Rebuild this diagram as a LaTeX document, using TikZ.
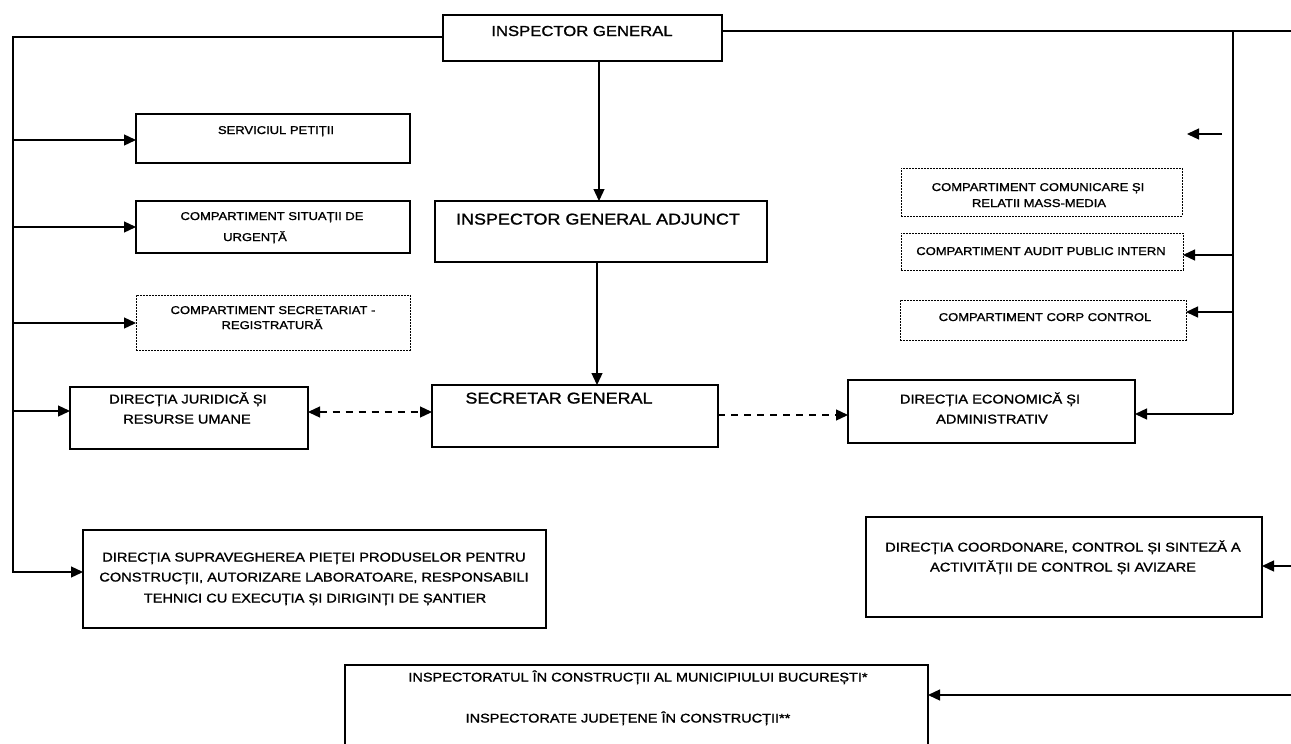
\documentclass[tikz,border=0pt]{standalone}
\usepackage{fontspec}
\setmainfont[FakeStretch=1.15,FakeBold=1.3]{Liberation Sans}
\usetikzlibrary{arrows.meta}
\newcommand\fntS{\fontsize{11.3}{13}\selectfont}
\newcommand\fntM{\fontsize{12.7}{15}\selectfont}
\newcommand\fntI{\fontsize{12.6}{15}\selectfont}
\newcommand\fntL{\fontsize{15.6}{18}\selectfont}
\newcommand\fntG{\fontsize{14.5}{17}\selectfont}
\begin{document}
\begin{tikzpicture}[x=1pt,y=-1pt,
  box/.style={draw, line width=1.3pt, inner sep=0, outer sep=0, rectangle},
  dbox/.style={draw, line width=0.8pt, dash pattern=on 2pt off 1pt, inner sep=0, outer sep=0, rectangle},
  ln/.style={line width=1.3pt},
  tip/.tip={Triangle[length=12pt,width=11pt]},
  arr/.style={line width=1.3pt, -tip},
  darr/.style={line width=1.3pt, dash pattern=on 7pt off 6pt, tip-tip},
  dar/.style={line width=1.3pt, dash pattern=on 7pt off 6pt, -tip},
  tx/.style={anchor=base, inner sep=0, outer sep=0}]
\fill[white] (0,0) rectangle (1291,744);
\useasboundingbox (0,0) rectangle (1291,744);
\clip (0,0) rectangle (1291,744);

% boxes
\node[box, minimum width=279pt, minimum height=46pt] (ig) at (582.5,38) {};
\node[box, minimum width=332pt, minimum height=61pt] (iga) at (601,231.5) {};
\node[box, minimum width=286pt, minimum height=62pt] (sg) at (575,416) {};
\node[box, minimum width=274pt, minimum height=49pt] (sp) at (273,138.5) {};
\node[box, minimum width=274pt, minimum height=52pt] (su) at (273,227) {};
\node[dbox, minimum width=274pt, minimum height=55pt] (sr) at (273,322.5) {};
\node[box, minimum width=238pt, minimum height=62pt] (jur) at (189,418) {};
\node[box, minimum width=287pt, minimum height=63pt] (eco) at (991.5,411.5) {};
\node[dbox, minimum width=281pt, minimum height=48pt] (com) at (1041.5,192) {};
\node[dbox, minimum width=282pt, minimum height=37pt] (aud) at (1042,251.5) {};
\node[dbox, minimum width=286pt, minimum height=40pt] (cc) at (1043,320) {};
\node[box, minimum width=463pt, minimum height=98pt] (sup) at (314.5,579) {};
\node[box, minimum width=396pt, minimum height=100pt] (coo) at (1064,567) {};
\node[box, minimum width=583pt, minimum height=100pt] (insp) at (636.5,715) {};

% texts
\node[tx, font=\fntG] (tig) at (582,36) {INSPECTOR GENERAL};
\node[tx, font=\fntL] (tiga) at (598,224.5) {INSPECTOR GENERAL ADJUNCT};
\node[tx, font=\fntL] (tsg) at (559,403.5) {SECRETAR GENERAL};
\node[tx, font=\fntS] (tsp) at (276,134) {SERVICIUL PETIȚII};
\node[tx, font=\fntS] (tsu1) at (272,220) {COMPARTIMENT SITUAȚII DE};
\node[tx, font=\fntS] (tsu2) at (255,241) {URGENȚĂ};
\node[tx, font=\fntS] (tsr1) at (273,314) {COMPARTIMENT SECRETARIAT -};
\node[tx, font=\fntS] (tsr2) at (272,329) {REGISTRATURĂ};
\node[tx, font=\fntM] (tj1) at (188,403.5) {DIRECȚIA JURIDICĂ ȘI};
\node[tx, font=\fntM] (tj2) at (187,423.5) {RESURSE UMANE};
\node[tx, font=\fntM] (te1) at (990,403.5) {DIRECȚIA ECONOMICĂ ȘI};
\node[tx, font=\fntM] (te2) at (992,423.5) {ADMINISTRATIV};
\node[tx, font=\fntS] (tc1) at (1038,191) {COMPARTIMENT COMUNICARE ȘI};
\node[tx, font=\fntS] (tc2) at (1039,207) {RELATII MASS-MEDIA};
\node[tx, font=\fntS] (ta) at (1041,255) {COMPARTIMENT AUDIT PUBLIC INTERN};
\node[tx, font=\fntS] (tcc) at (1045,321) {COMPARTIMENT CORP CONTROL};
\node[tx, font=\fntM] (ts1) at (314,561.5) {DIRECȚIA SUPRAVEGHEREA PIEȚEI PRODUSELOR PENTRU};
\node[tx, font=\fntM] (ts2) at (314,581.5) {CONSTRUCȚII, AUTORIZARE LABORATOARE, RESPONSABILI};
\node[tx, font=\fntM] (ts3) at (315,602.5) {TEHNICI CU EXECUȚIA ȘI DIRIGINȚI DE ȘANTIER};
\node[tx, font=\fntM] (to1) at (1063,551.5) {DIRECȚIA COORDONARE, CONTROL ȘI SINTEZĂ A};
\node[tx, font=\fntM] (to2) at (1063,571.5) {ACTIVITĂȚII DE CONTROL ȘI AVIZARE};
\node[tx, font=\fntI] (ti1) at (638,681.5) {INSPECTORATUL ÎN CONSTRUCȚII AL MUNICIPIULUI BUCUREȘTI*};
\node[tx, font=\fntI] (ti2) at (628,722.5) {INSPECTORATE JUDEȚENE ÎN CONSTRUCȚII**};

% left trunk
\coordinate (t0) at (13,37);
\coordinate (t1) at (13,140);
\coordinate (t2) at (13,227);
\coordinate (t3) at (13,323);
\coordinate (t4) at (13,411);
\coordinate (t5) at (13,572);
\draw[arr] (ig.west |- t0) -- (t0) -- (t5) -- (t5 -| sup.west);
\draw[arr] (t1) -- (t1 -| sp.west);
\draw[arr] (t2) -- (t2 -| su.west);
\draw[arr] (t3) -- (t3 -| sr.west);
\draw[arr] (t4) -- (t4 -| jur.west);

% centre column
\coordinate (v1) at (599,0);
\coordinate (v2) at (597,0);
\draw[arr] (ig.south -| v1) -- (iga.north -| v1);
\draw[arr] (iga.south -| v2) -- (sg.north -| v2);
\coordinate (dj) at (0,412);
\coordinate (de) at (0,415);
\draw[darr] (jur.east |- dj) -- (sg.west |- dj);
\draw[dar] (sg.east |- de) -- (eco.west |- de);

% right trunk
\coordinate (r0) at (1291,31);
\coordinate (rt) at (1233,31);
\coordinate (rb) at (1233,414);
\coordinate (ra) at (1233,255);
\coordinate (rc) at (1233,312);
\draw[ln] (ig.east |- r0) -- (r0);
\draw[ln] (rt) -- (rb);
\draw[arr] (rb) -- (rb -| eco.east);
\draw[arr] (ra) -- (ra -| aud.east);
\draw[arr] (rc) -- (rc -| cc.east);
\coordinate (s1) at (1222,134);
\coordinate (s2) at (1187,134);
\draw[arr] (s1) -- (s2);
\coordinate (e1) at (1291,566);
\coordinate (e2) at (1291,695);
\draw[arr] (e1) -- (e1 -| coo.east);
\draw[arr] (e2) -- (e2 -| insp.east);
\end{tikzpicture}
\end{document}
